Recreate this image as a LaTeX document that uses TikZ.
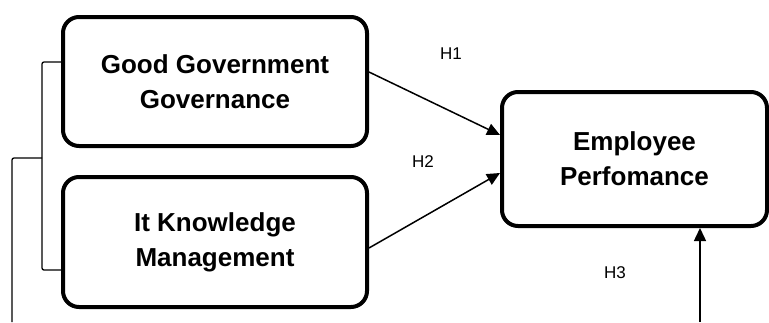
\documentclass[tikz,border=0pt]{standalone}
\usepackage{fontspec}
\setmainfont{Liberation Sans}
\usetikzlibrary{arrows.meta,calc}
\begin{document}
\begin{tikzpicture}[x=1pt,y=-1pt,
 box/.style={draw,line width=4pt,rounded corners=16pt,align=center,font=\fontsize{26}{35}\selectfont\bfseries,inner sep=0pt},
 conn/.style={line width=1.5pt,-{Triangle[length=13pt,width=12pt]}},
 brk/.style={line width=1.3pt,rounded corners=2pt},
 hlab/.style={font=\fontsize{17}{19}\selectfont}]
\useasboundingbox (0,0) rectangle (769,322);
\node[box,minimum width=304pt,minimum height=129pt] (ggg) at (215,81.5) {Good Government\\Governance};
\node[box,minimum width=304pt,minimum height=130pt] (itk) at (215,242) {It Knowledge\\Management};
\node[box,minimum width=265pt,minimum height=134pt] (emp) at (634.5,159) {Employee\\Perfomance};
\node[hlab] (h1) at (451,54) {H1};
\node[hlab] (h2) at (423,162) {H2};
\node[hlab] (h3) at (615,273) {H3};
\draw[conn] ($(ggg.east)+(0,-9.5)$) -- ($(emp.west)+(0,-24)$);
\draw[conn] ($(itk.east)+(0,6)$) -- ($(emp.west)+(0,14)$);
\coordinate (vb) at (700,322);
\draw[conn] (vb) -- (emp.south -| vb);
\coordinate (bt) at ($(ggg.west)+(0,-19.5)$);
\coordinate (bb) at ($(itk.west)+(0,28)$);
\draw[brk] (bt) -- (42,62) -- (42,270) -- (bb);
\coordinate (bm) at (42,158);
\coordinate (lb) at (12,322);
\draw[brk] (bm) -- (12,158) -- (lb);
\end{tikzpicture}
\end{document}
